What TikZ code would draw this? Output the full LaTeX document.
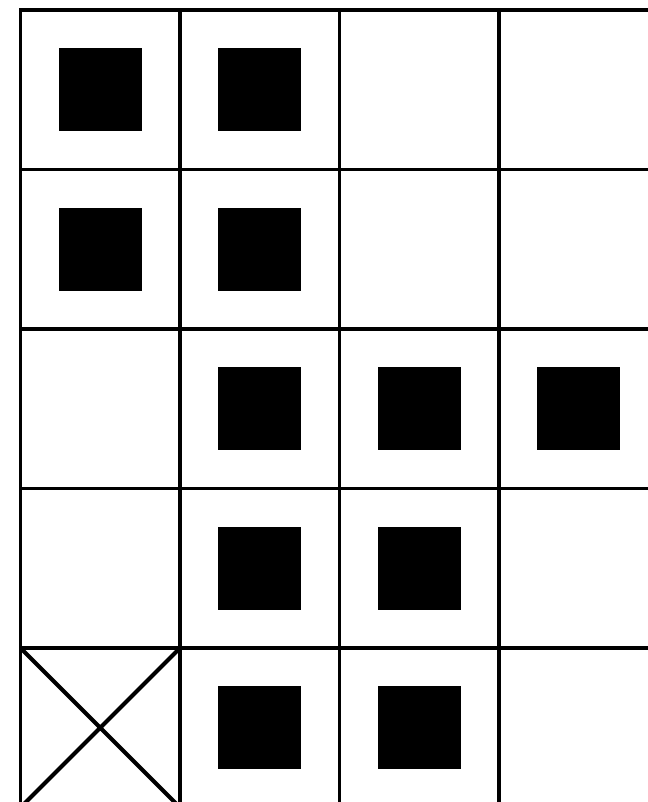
\documentclass[tikz,border=0pt]{standalone}
\usetikzlibrary{positioning}
\tikzset{
  cell/.style={draw,line width=1.4pt,minimum size=2cm,inner sep=0pt,
    outer sep=0pt},
  block/.style={fill=black,minimum size=1.04cm,inner sep=0pt},
  cross/.style={line width=1.4pt}
}
\begin{document}
\begin{tikzpicture}
  \useasboundingbox (-0.257,0.125) rectangle (7.868,-9.931);

  \foreach \r in {1,...,5}
    \foreach \c in {1,...,4}
      \node[cell] (c\r\c) at (2*\c-1,-2*\r+1) {};

  \foreach \r/\c in {1/1,1/2,2/1,2/2,3/2,3/3,3/4,4/2,4/3,5/2,5/3}
    \node[block] (b\r\c) at (c\r\c) {};

  \draw[cross] (c51.north west) -- (c51.south east)
               (c51.north east) -- (c51.south west);
\end{tikzpicture}
\end{document}
